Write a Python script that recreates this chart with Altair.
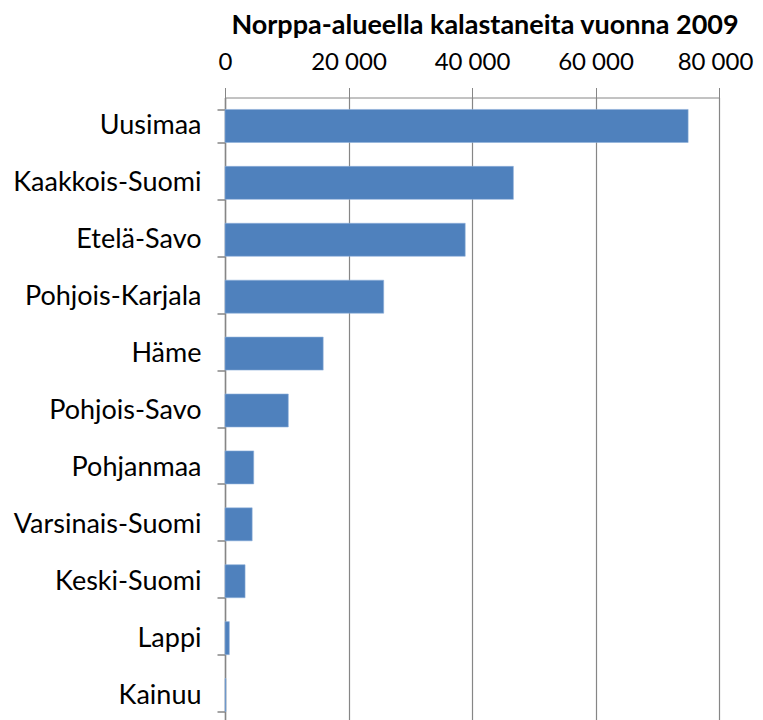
import altair as alt
import pandas as pd

regions = ["Uusimaa", "Kaakkois-Suomi", "Etelä-Savo", "Pohjois-Karjala", "Häme",
           "Pohjois-Savo", "Pohjanmaa", "Varsinais-Suomi", "Keski-Suomi", "Lappi", "Kainuu"]
anglers = [75000, 46700, 38900, 25700, 15900, 10250, 4650, 4400, 3250, 700, 160]
x_ticks = [0, 20000, 40000, 60000, 80000]
title_text = "Norppa-alueella kalastaneita vuonna 2009"

df = pd.DataFrame({"region": regions, "value": anglers})

FONT = "Lato"
GRAY = "#868686"

chart = alt.Chart(df).mark_bar(color="#4F81BD", stroke="#8EB0DA", strokeWidth=0.6).encode(
    x=alt.X("value:Q",
            scale=alt.Scale(domain=[0, 80000], nice=False),
            axis=alt.Axis(orient="top", values=x_ticks, title=None,
                          labelExpr="replace(format(datum.value, ','), ',', ' ')",
                          labelFontSize=24, labelFont=FONT, labelColor="#000000",
                          labelFlush=False, labelBound=False, labelOverlap=False,
                          labelOffset={"condition": {"test": "datum.value == 80000", "value": -4},
                                       "value": 0},
                          labelPadding=13, tickSize=10, tickColor=GRAY,
                          domainColor=GRAY, gridColor=GRAY, gridWidth=1.2,
                          gridOpacity=1)),
    y=alt.Y("region:N", sort=regions,
            scale=alt.Scale(paddingInner=0.42, paddingOuter=0.21),
            axis=alt.Axis(title=None, tickBand="extent", tickSize=8, tickColor=GRAY,
                          domainColor=GRAY, domainWidth=1.5, tickWidth=1.5,
                          labelFontSize=27, labelFont=FONT, labelColor="#000000",
                          labelPadding=16, grid=False, labelOverlap=False,
                          labelLimit=0)),
).properties(
    width=494,
    height=626,
    title=alt.TitleParams(title_text, font=FONT, fontSize=27, fontWeight="bold",
                          color="#000000", anchor="middle", dx=13, offset=11),
    autosize=alt.AutoSizeParams(type="none"),
    padding={"left": 217, "top": 89.5, "right": 36, "bottom": 8},
).configure_view(stroke=None)

chart.save("out.html", embed_options={"renderer": "svg", "actions": False})
